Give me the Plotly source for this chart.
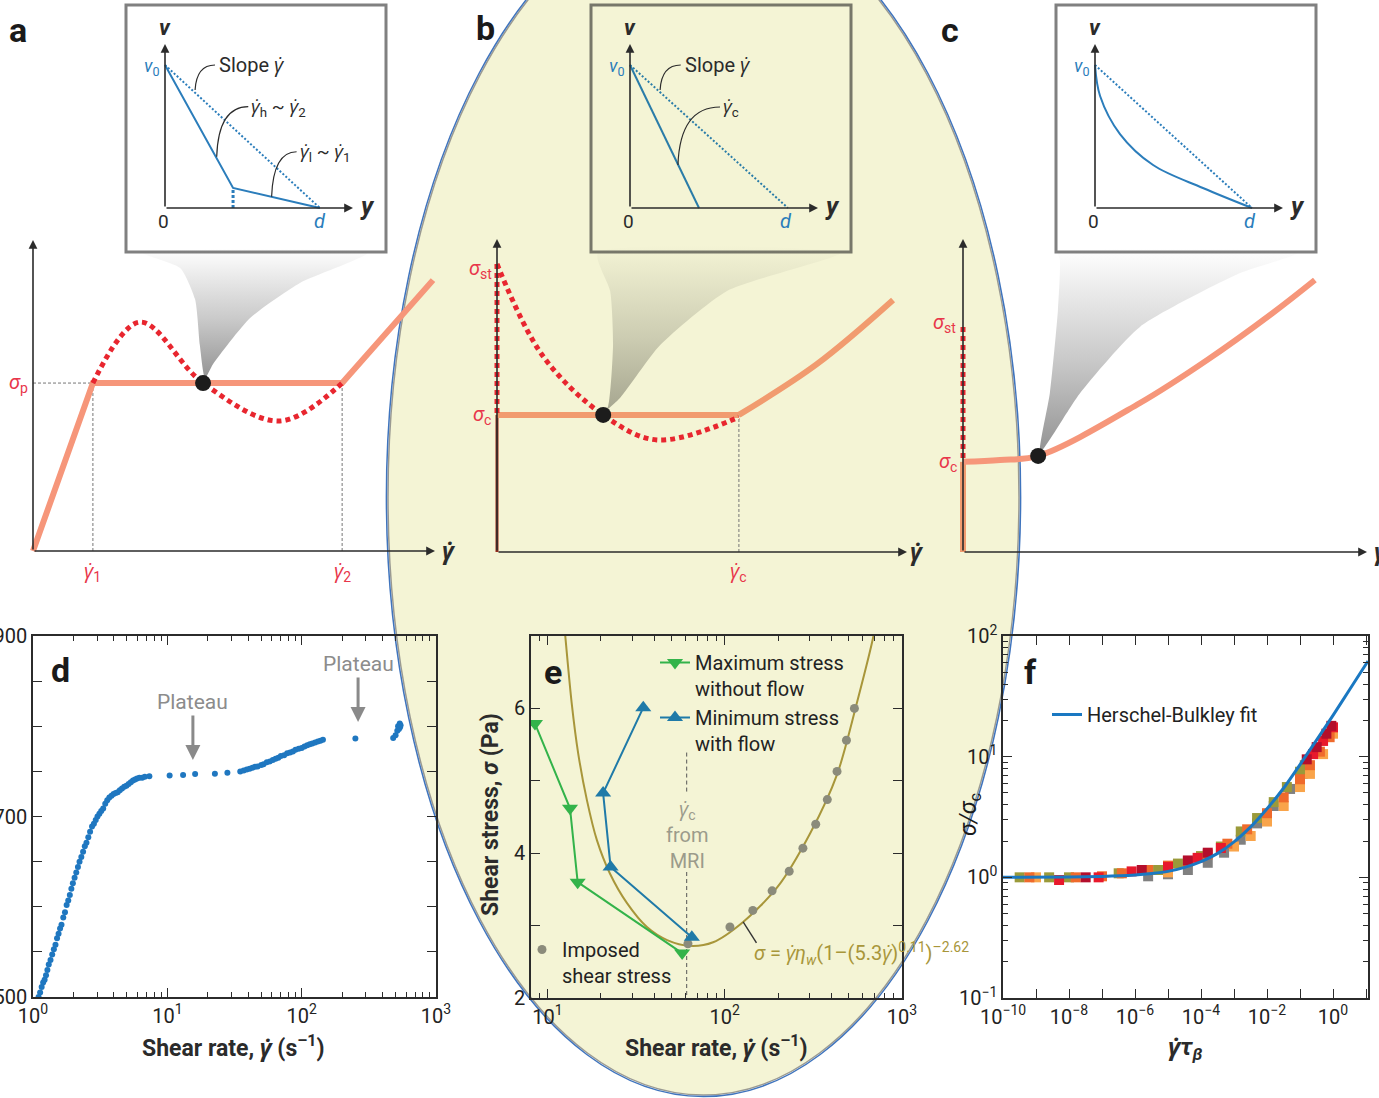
import math
import plotly.graph_objects as go

W, H = 1379, 1098
FONT = "Roboto, 'Open Sans', 'DejaVu Sans', sans-serif"

INK = "#2b2b2b"
SALMON = "#f6967a"
SALMON_B = "#f19b6f"
RED = "#e8262f"
LABEL_RED = "#e8364a"
BLUE = "#2b7dbb"
YELLOW = "#f4f4d5"
GD = "\u03b3\u0307"  # gamma with dot: shear rate

# ---------------- schematic a: shear banding (units: origin 0, arrow tip 1)
a_gamma_1, a_gamma_2, a_sigma_p = 0.149, 0.769, 0.54
a_flow_rate = [0.0, a_gamma_1, a_gamma_2, 0.995]
a_flow_stress = [0.0, a_sigma_p, a_sigma_p, 0.871]
a_unstable_rate = [a_gamma_1, 0.266, 0.423, 0.614, a_gamma_2]
a_unstable_stress = [a_sigma_p, 0.736, a_sigma_p, 0.418, a_sigma_p]
a_state_rate, a_state_stress = [0.423], [a_sigma_p]
a_fan_rate = [0.428, 0.415, 0.403, 0.366, 0.274, 0.831, 0.664, 0.540, 0.448, 0.428]
a_fan_stress = [0.556, 0.662, 0.810, 0.910, 0.958, 0.958, 0.862, 0.749, 0.601, 0.556]
# inset a: velocity profile across the gap
a_in_pos = [0.0, 0.362, 0.824]
a_in_vel = [0.872, 0.122, 0.0]
a_in_band_pos = [0.362, 0.362]
a_in_band_vel = [0.0, 0.122]

# ---------------- schematic b: shear banding with a static band
b_sigma_c, b_sigma_st, b_gamma_c = 0.438, 0.92, 0.59
b_flow_rate = [b_gamma_c, 0.78, 0.966]
b_flow_stress = [b_sigma_c, 0.60, 0.805]
b_unstable_rate = [0.0, 0.112, 0.259, 0.39, b_gamma_c]
b_unstable_stress = [b_sigma_st, 0.626, b_sigma_c, 0.358, 0.431]
b_state_rate, b_state_stress = [0.259], [b_sigma_c]
b_fan_rate = [0.259, 0.271, 0.283, 0.276, 0.246, 0.837, 0.561, 0.398, 0.300, 0.259]
b_fan_stress = [0.444, 0.466, 0.661, 0.834, 0.955, 0.955, 0.834, 0.661, 0.492, 0.444]
b_in_pos = [0.0, 0.367]
b_in_vel = [0.872, 0.0]

# ---------------- schematic c: simple yield-stress fluid
c_sigma_c, c_sigma_st = 0.288, 0.719
c_flow_rate = [0.0, 0.092, 0.186, 0.438, 0.604, 0.767, 0.871]
c_flow_stress = [c_sigma_c, 0.294, 0.307, 0.476, 0.613, 0.764, 0.869]
c_state_rate, c_state_stress = [0.186], [0.307]
c_fan_rate = [0.191, 0.215, 0.235, 0.240, 0.235, 0.827, 0.686, 0.438, 0.290, 0.191]
c_fan_stress = [0.319, 0.508, 0.773, 0.933, 0.955, 0.955, 0.891, 0.719, 0.508, 0.319]
c_in_pos = [0.0, 0.027, 0.133, 0.309, 0.574, 0.835]
c_in_vel = [0.872, 0.683, 0.451, 0.262, 0.122, 0.0]

v0_level = 0.872
a_gap, b_gap, c_gap = 0.824, 0.840, 0.835

# ---------------- panel d: measured flow curve
d_rate = [1.10, 1.13, 1.16, 1.19, 1.22, 1.25, 1.28, 1.31, 1.35, 1.39, 1.43, 1.47, 1.51, 1.55,
          1.59, 1.63, 1.68, 1.73, 1.78, 1.83, 1.88, 1.93, 1.98, 2.04, 2.10, 2.16, 2.22, 2.29,
          2.36, 2.43, 2.50, 2.58, 2.66, 2.75, 2.84, 2.93, 3.02, 3.12, 3.22, 3.33, 3.45, 3.57,
          3.70, 3.84, 3.98, 4.12, 4.27, 4.43, 4.60, 4.78, 4.96, 5.15, 5.35, 5.55, 5.75, 5.95,
          6.20, 6.50, 6.80, 7.35, 10.4, 13.1, 16.1, 22.6, 28.0, 34.9, 37, 39, 41, 43, 45, 47,
          50, 52, 55, 58, 61, 64, 67, 70, 74, 78, 82, 86, 90, 95, 100, 105, 110, 115, 120, 126,
          132, 138, 144, 251, 480, 500, 515, 522, 530, 537, 540, 545]
d_stress = [500, 505, 511, 516, 519, 524, 530, 536, 541, 547, 553, 558, 565, 570,
            576, 580, 588, 594, 602, 607, 613, 620, 626, 632, 638, 644, 650, 655,
            661, 667, 671, 677, 683, 689, 692, 696, 700, 703, 706, 709, 714, 718,
            721, 723, 725, 726, 727, 729, 731, 733, 734, 736, 738, 740, 741, 742,
            743, 743, 744, 744.5, 745.5, 746, 747, 747.5, 748.5, 750, 751, 752, 753, 754, 755, 755.5,
            757, 758, 760, 761, 762.5, 764, 765, 767, 768, 770, 771, 772, 774, 775, 776, 777.5, 779, 780, 781, 782,
            783, 784, 785, 786.5, 787, 790, 795, 800, 797, 803, 799, 801]
d_tickvals_y = [500, 550, 600, 650, 700, 750, 800, 850, 900]
d_ticktext_y = ["500", "", "", "", "700", "", "", "", "900"]
d_plateau_rate = [15.5, 263]
d_plateau_stress = [762.6, 804.7]

# ---------------- panel e: stress vs rate, MRI data
e_max_rate = [8.5, 13.4, 14.8, 57.5]
e_max_stress = [5.79, 4.62, 3.60, 2.62]
e_min_rate = [34.7, 20.6, 22.7, 65.2]
e_min_stress = [6.01, 4.83, 3.81, 2.84]
e_imposed_rate = [62, 107, 144, 185, 231, 276, 326, 379, 430, 486, 539]
e_imposed_stress = [2.75, 2.98, 3.21, 3.48, 3.75, 4.07, 4.40, 4.74, 5.13, 5.56, 6.00]
e_fit_rate = [12.3, 12.6, 13.7, 14.9, 16.7, 19.0, 22.5, 28.1, 36.4, 47.3, 63.8, 86, 127, 198, 304, 432, 561, 690, 720]
e_fit_stress = [7.3, 7.0, 6.07, 5.38, 4.73, 4.18, 3.72, 3.31, 2.98, 2.80, 2.72, 2.77, 3.05, 3.53, 4.28, 5.10, 6.11, 7.0, 7.3]
e_gamma_c_mri = 61
e_mri_stress = [5.39, 4.84, None, 3.74, 2.0]
e_pointer_rate = [127, 151]
e_pointer_stress = [3.05, 2.76]

# ---------------- panel f: scaled flow curves
f_gray_rate = [2.5e-6, 1e-5, 4e-5, 1.6e-4, 5e-4, 1.6e-3, 5e-3, 1.6e-2, 5e-2, 0.12]
f_gray_ratio = [1.02, 1.06, 1.15, 1.32, 1.6, 2.05, 2.8, 3.9, 5.4, 7.2]
f_olive_rate = [3.2e-10, 2.5e-9, 1.0e-8, 3.2e-7, 5.0e-6, 2.0e-5, 1.0e-4, 4.0e-4, 1.6e-3, 5.0e-3, 1.6e-2, 4.0e-2, 0.1, 0.14]
f_olive_ratio = [1.0, 1.0, 1.0, 1.08, 1.15, 1.3, 1.5, 1.8, 2.4, 3.1, 4.2, 5.6, 7.5, 8.5]
f_lorange_rate = [1e-9, 1e-5, 1e-3, 3.2e-3, 1e-2, 3.2e-2, 0.1, 0.2, 0.5, 1.0]
f_lorange_ratio = [1.0, 1.1, 1.8, 2.2, 2.9, 3.9, 5.6, 7.2, 10.5, 15.5]
f_orange_rate = [6.3e-10, 1.6e-8, 1e-7, 4.0e-7, 2.5e-6, 1e-5, 4e-5, 1.6e-4, 6.3e-4, 2.5e-3, 1e-2, 3.2e-2, 0.1, 0.2, 0.4, 0.79]
f_orange_ratio = [1.0, 1.0, 1.02, 1.08, 1.15, 1.25, 1.35, 1.55, 1.9, 2.5, 3.4, 4.6, 6.5, 8.5, 11.0, 14.5]
f_red_rate = [5.0e-9, 7.9e-8, 7.9e-7, 1e-5, 7.9e-5, 4e-4, 0.25, 0.5, 1.0]
f_red_ratio = [0.95, 1.0, 1.12, 1.22, 1.45, 1.75, 10.5, 13.5, 17.5]
f_dred_rate = [3.2e-8, 1.6e-6, 4e-5, 1.6e-4, 0.16, 0.32, 0.63, 0.89]
f_dred_ratio = [1.0, 1.15, 1.38, 1.6, 9.5, 12.0, 15.5, 18.0]
f_fit_rate = [1e-10, 1e-8, 1e-7, 1e-6, 3.2e-6, 1e-5, 3.2e-5, 1e-4, 3.2e-4, 1e-3, 3.2e-3,
              1e-2, 3.2e-2, 0.1, 0.32, 1.0, 3.2, 11.5]
f_fit_ratio = [1.0, 1.006, 1.016, 1.044, 1.074, 1.12, 1.21, 1.35, 1.58, 1.97, 2.62,
               3.7, 5.5, 8.6, 13.8, 22.0, 36.0, 62.0]

fig = go.Figure()


def names(n):
    s = "" if n == 1 else str(n)
    return "xaxis" + s, "yaxis" + s, "x" + s, "y" + s


def schematic_axes(n, box, origin, tip):
    l, t, r, b = box
    x0, y0 = origin
    xt, yt = tip
    xa, ya, xr, yr = names(n)
    fig.update_layout({
        xa: dict(domain=[l / W, r / W], range=[(l - x0) / (xt - x0), (r - x0) / (xt - x0)],
                 visible=False, anchor=yr, automargin=False),
        ya: dict(domain=[1 - b / H, 1 - t / H], range=[(y0 - b) / (y0 - yt), (y0 - t) / (y0 - yt)],
                 visible=False, anchor=xr, automargin=False),
    })
    return xr, yr


def line(ref, x, y, color, width, dash=None, shape="linear", smoothing=1.0):
    fig.add_trace(go.Scatter(x=x, y=y, mode="lines", xaxis=ref[0], yaxis=ref[1],
                             line=dict(color=color, width=width, dash=dash, shape=shape, smoothing=smoothing),
                             showlegend=False, hoverinfo="skip"))


def dot(ref, x, y, size=16):
    fig.add_trace(go.Scatter(x=x, y=y, mode="markers", xaxis=ref[0], yaxis=ref[1], cliponaxis=False,
                             marker=dict(color="#1c1c1c", size=size), showlegend=False, hoverinfo="skip"))


def fan(ref, x, y, base, alpha):
    fig.add_trace(go.Scatter(
        x=x, y=y, mode="lines", fill="toself", xaxis=ref[0], yaxis=ref[1],
        line=dict(width=0, shape="spline", smoothing=0.6),
        fillgradient=dict(type="vertical", colorscale=[[0, f"rgba({base},{alpha})"],
                                                       [0.45, f"rgba({base},{alpha * 0.5})"],
                                                       [1, f"rgba({base},0)"]]),
        showlegend=False, hoverinfo="skip"))


def arrow(ref, x, y):
    fig.add_annotation(xref=ref[0], yref=ref[1], axref=ref[0], ayref=ref[1], x=x, y=y, ax=0, ay=0,
                       text="", showarrow=True, arrowhead=2, arrowsize=1.1, arrowwidth=1.6,
                       arrowcolor=INK, standoff=0)


def note(ref, x, y, text, size=18, color=INK, xanchor="center", yanchor="middle", **kw):
    fig.add_annotation(xref=ref[0], yref=ref[1], x=x, y=y, text=text, showarrow=False,
                       font=dict(family=FONT, size=size, color=color), xanchor=xanchor, yanchor=yanchor, **kw)


def ptext(px, py, text, size=18, color=INK, xanchor="center", yanchor="middle", **kw):
    note(("paper", "paper"), px / W, 1 - py / H, text, size, color, xanchor, yanchor, **kw)


def leader(ref, p0, c, p1):
    fig.add_shape(type="path", xref=ref[0], yref=ref[1], layer="above",
                  path=f"M{p0[0]},{p0[1]} Q{c[0]},{c[1]} {p1[0]},{p1[1]}",
                  line=dict(color=INK, width=1.2))


# ---------------- background: highlighted ellipse and inset frames
cx, cy, rx, ry = 703.5, 497, 315.5, 598
fig.add_shape(type="circle", xref="paper", yref="paper", layer="below",
              x0=(cx - rx) / W, x1=(cx + rx) / W, y0=1 - (cy + ry) / H, y1=1 - (cy - ry) / H,
              fillcolor=YELLOW, line=dict(color="#9a9a92", width=1.5))
fig.add_shape(type="circle", xref="paper", yref="paper", layer="below",
              x0=(cx - rx - 1.6) / W, x1=(cx + rx + 1.6) / W, y0=1 - (cy + ry + 1.6) / H, y1=1 - (cy - ry - 1.6) / H,
              line=dict(color="#3f74bd", width=1.5))
for (l, t, r, b), fill, edge in [((126, 5, 386, 252), "white", "#808080"),
                                  ((591, 5, 851, 252), "rgba(0,0,0,0)", "#77776a"),
                                  ((1056, 5, 1316, 252), "white", "#808080")]:
    fig.add_shape(type="rect", xref="paper", yref="paper", layer="below",
                  x0=l / W, x1=r / W, y0=1 - b / H, y1=1 - t / H,
                  fillcolor=fill, line=dict(color=edge, width=3))

# ---------------- panel a
A = schematic_axes(1, (0, 228, 460, 592), (33, 551), (435, 240))
AI = schematic_axes(2, (128, 10, 384, 248), (165, 208), (353, 44))

fan(A, a_fan_rate, a_fan_stress, "120,120,120", 0.8)
line(A, [0, a_gamma_1], [a_sigma_p, a_sigma_p], "#777777", 1, "3px,2px")
line(A, [a_gamma_1, a_gamma_1], [0, a_sigma_p], "#777777", 1, "3px,2px")
line(A, [a_gamma_2, a_gamma_2], [0, a_sigma_p], "#777777", 1, "3px,2px")
line(A, a_flow_rate, a_flow_stress, SALMON, 6)
line(A, a_unstable_rate, a_unstable_stress, RED, 5, "5px,4px", "spline", 1.0)
dot(A, a_state_rate, a_state_stress)
arrow(A, 0, 1)
arrow(A, 1, 0)
note(A, 0, 1.05, "<b><i>σ</i></b>", 23)
note(A, 1.035, 0, f"<b><i>{GD}</i></b>", 23)
note(A, -0.037, a_sigma_p, "<i>σ</i><sub>p</sub>", 20, LABEL_RED)
note(A, a_gamma_1, -0.068, f"<i>{GD}</i><sub>1</sub>", 20, LABEL_RED)
note(A, a_gamma_2, -0.068, f"<i>{GD}</i><sub>2</sub>", 20, LABEL_RED)

line(AI, [0, a_gap], [v0_level, 0], BLUE, 2, "2px,2px")
line(AI, a_in_band_pos, a_in_band_vel, BLUE, 3, "3px,2px")
line(AI, a_in_pos, a_in_vel, BLUE, 2)
arrow(AI, 0, 1)
arrow(AI, 1, 0)
note(AI, 0, 1.10, "<b><i>v</i></b>", 22)
note(AI, 1.075, 0.01, "<b><i>y</i></b>", 25)
note(AI, -0.01, -0.08, "0", 19)
note(AI, a_gap, -0.08, "<i>d</i>", 20, BLUE)
note(AI, -0.07, 0.86, "<i>v</i><sub>0</sub>", 18, BLUE)
leader(AI, (0.16, 0.72), (0.168, 0.872), (0.266, 0.872))
note(AI, 0.275, 0.872, f"Slope <i>{GD}</i>", 20, xanchor="left")
leader(AI, (0.275, 0.313), (0.284, 0.618), (0.443, 0.618))
note(AI, 0.448, 0.612, f"<i>{GD}</i><sub>h</sub> ~ <i>{GD}</i><sub>2</sub>", 19, xanchor="left")
leader(AI, (0.567, 0.069), (0.576, 0.343), (0.700, 0.343))
note(AI, 0.705, 0.337, f"<i>{GD}</i><sub>l</sub> ~ <i>{GD}</i><sub>1</sub>", 19, xanchor="left")

# ---------------- panel b
B = schematic_axes(3, (470, 228, 925, 592), (497, 552), (907, 239))
BI = schematic_axes(4, (593, 10, 849, 248), (630, 208), (818, 44))

fan(B, b_fan_rate, b_fan_stress, "100,100,85", 0.55)
line(B, [b_gamma_c, b_gamma_c], [0, b_sigma_c], "#777777", 1, "3px,2px")
line(B, [0, 0], [0, b_sigma_c], "#9a2a1a", 3)
line(B, [0, b_gamma_c], [b_sigma_c, b_sigma_c], SALMON_B, 6)
line(B, b_flow_rate, b_flow_stress, SALMON_B, 6, shape="spline")
line(B, [0, 0], [b_sigma_st, b_sigma_c], RED, 5, "5px,4px")
line(B, b_unstable_rate, b_unstable_stress, RED, 5, "5px,4px", "spline", 1.0)
dot(B, b_state_rate, b_state_stress)
arrow(B, 0, 1)
arrow(B, 1, 0)
note(B, 0.005, 1.05, "<b><i>σ</i></b>", 23)
note(B, 1.025, 0, f"<b><i>{GD}</i></b>", 23)
note(B, -0.041, b_sigma_st - 0.015, "<i>σ</i><sub>st</sub>", 20, LABEL_RED)
note(B, -0.036, b_sigma_c, "<i>σ</i><sub>c</sub>", 20, LABEL_RED)
note(B, b_gamma_c, -0.064, f"<i>{GD}</i><sub>c</sub>", 20, LABEL_RED)

line(BI, [0, b_gap], [v0_level, 0], "#2a7ca8", 2, "2px,2px")
line(BI, b_in_pos, b_in_vel, "#2a7ca8", 2)
arrow(BI, 0, 1)
arrow(BI, 1, 0)
note(BI, 0, 1.10, "<b><i>v</i></b>", 22)
note(BI, 1.075, 0.01, "<b><i>y</i></b>", 25)
note(BI, -0.01, -0.08, "0", 19)
note(BI, b_gap - 0.01, -0.08, "<i>d</i>", 20, BLUE)
note(BI, -0.07, 0.86, "<i>v</i><sub>0</sub>", 18, BLUE)
leader(BI, (0.16, 0.72), (0.168, 0.872), (0.27, 0.872))
note(BI, 0.28, 0.872, f"Slope <i>{GD}</i>", 20, xanchor="left")
leader(BI, (0.255, 0.262), (0.266, 0.616), (0.479, 0.616))
note(BI, 0.485, 0.61, f"<i>{GD}</i><sub>c</sub>", 19, xanchor="left")

# ---------------- panel c
C = schematic_axes(5, (935, 228, 1379, 592), (963, 552), (1367, 239))
CI = schematic_axes(6, (1058, 10, 1314, 248), (1095, 208), (1283, 44))

fan(C, c_fan_rate, c_fan_stress, "120,120,120", 0.8)
line(C, [0, 0], [0, c_sigma_c], SALMON_B, 6)
line(C, c_flow_rate, c_flow_stress, SALMON, 6, shape="spline")
line(C, [0, 0], [c_sigma_st, c_sigma_c], RED, 5, "5px,4px")
dot(C, c_state_rate, c_state_stress)
arrow(C, 0, 1)
arrow(C, 1, 0)
note(C, 0.005, 1.05, "<b><i>σ</i></b>", 23)
note(C, 1.012, 0, f"<b><i>{GD}</i></b>", 23, xanchor="left")
note(C, -0.045, c_sigma_st + 0.012, "<i>σ</i><sub>st</sub>", 20, LABEL_RED)
note(C, -0.037, c_sigma_c, "<i>σ</i><sub>c</sub>", 20, LABEL_RED)

line(CI, [0, c_gap], [v0_level, 0], BLUE, 2, "2px,2px")
line(CI, c_in_pos, c_in_vel, BLUE, 2, shape="spline")
arrow(CI, 0, 1)
arrow(CI, 1, 0)
note(CI, 0, 1.10, "<b><i>v</i></b>", 22)
note(CI, 1.075, 0.01, "<b><i>y</i></b>", 25)
note(CI, -0.01, -0.08, "0", 19)
note(CI, c_gap - 0.01, -0.08, "<i>d</i>", 20, BLUE)
note(CI, -0.07, 0.86, "<i>v</i><sub>0</sub>", 18, BLUE)

# ---------------- data panels d, e, f
frame = dict(showline=True, linecolor=INK, linewidth=1.5, mirror="ticks", ticks="inside",
             tickcolor=INK, tickwidth=1.3, showgrid=False, zeroline=False, automargin=False,
             tickfont=dict(family=FONT, size=20, color="#222"))


def sup(k):
    return f"10<sup>{str(k).replace('-', '−')}</sup>"


d_minor = [m * 10 ** k for k in range(3) for m in range(2, 10)]
e_minor = [9] + [m * 10 ** k for k in (1, 2) for m in range(2, 10)]
f_minor = [m * 10.0 ** k for k in (-1, 0, 1) for m in range(2, 10)]
minor_style = dict(ticks="inside", ticklen=5, tickcolor=INK, tickwidth=1.2)

fig.update_layout(
    xaxis7=dict(frame, type="log", domain=[33 / W, 436 / W], range=[0, 3], anchor="y7", ticklen=9,
                tickvals=[1, 10, 100, 1000], ticktext=[sup(k) for k in range(4)],
                minor=dict(minor_style, tickvals=d_minor)),
    yaxis7=dict(frame, domain=[1 - 997 / H, 1 - 636 / H], range=[500, 900], anchor="x7", ticklen=9,
                tickvals=d_tickvals_y, ticktext=d_ticktext_y),
    xaxis8=dict(frame, type="log", domain=[531 / W, 902 / W], range=[0.907, 3], anchor="y8", ticklen=9,
                tickvals=[10, 100, 1000], ticktext=[sup(k) for k in (1, 2, 3)],
                minor=dict(minor_style, tickvals=e_minor)),
    yaxis8=dict(frame, domain=[1 - 998 / H, 1 - 636 / H], range=[2, 7], anchor="x8", ticklen=9,
                tickvals=[2, 3, 4, 5, 6, 7], ticktext=["2", "", "4", "", "6", ""]),
    xaxis9=dict(frame, type="log", domain=[1003 / W, 1368 / W], range=[-10, 1.06], anchor="y9", ticklen=9,
                tickvals=[10.0 ** k for k in range(-10, 2)],
                ticktext=[sup(k) if (k % 2 == 0 and k <= 0) else "" for k in range(-10, 2)]),
    yaxis9=dict(frame, type="log", domain=[1 - 998 / H, 1 - 636 / H], range=[-1, 2], anchor="x9", ticklen=9,
                tickvals=[0.1, 1, 10, 100], ticktext=[sup(k) for k in (-1, 0, 1, 2)],
                minor=dict(minor_style, tickvals=f_minor)),
)

D, E, F = ("x7", "y7"), ("x8", "y8"), ("x9", "y9")

# d
fig.add_trace(go.Scatter(x=d_rate, y=d_stress, mode="markers", xaxis="x7", yaxis="y7",
                         marker=dict(color="#1f77c0", size=6), showlegend=False, hoverinfo="skip"))
for rate, stress in zip(d_plateau_rate, d_plateau_stress):
    fig.add_annotation(xref="x7", yref="y7", x=math.log10(rate), y=stress, ax=0, ay=-58,
                       text="Plateau", showarrow=True, arrowhead=2, arrowsize=1, arrowwidth=3,
                       arrowcolor="#8a8a8a", font=dict(family=FONT, size=21, color="#8c8c8c"))

# e
line(E, e_fit_rate, e_fit_stress, "#a8963a", 2, shape="spline", smoothing=0.8)
line(E, [e_gamma_c_mri] * 5, e_mri_stress, "#555555", 1, "4px,3px")
line(E, e_pointer_rate, e_pointer_stress, "#333333", 1.4)
fig.add_trace(go.Scatter(x=e_imposed_rate, y=e_imposed_stress, mode="markers", xaxis="x8", yaxis="y8",
                         marker=dict(color="#8b8b7b", size=9), name="Imposed<br>shear stress",
                         legend="legend2", hoverinfo="skip"))
fig.add_trace(go.Scatter(x=e_max_rate, y=e_max_stress, mode="lines+markers", xaxis="x8", yaxis="y8",
                         line=dict(color="#33b34a", width=2),
                         marker=dict(symbol="triangle-down", size=14, color="#33b34a"),
                         name="Maximum stress<br>without flow", legend="legend", hoverinfo="skip"))
fig.add_trace(go.Scatter(x=e_min_rate, y=e_min_stress, mode="lines+markers", xaxis="x8", yaxis="y8",
                         line=dict(color="#1f7aa8", width=2),
                         marker=dict(symbol="triangle-up", size=14, color="#1f7aa8"),
                         name="Minimum stress<br>with flow", legend="legend", hoverinfo="skip"))
note(E, math.log10(e_gamma_c_mri), 4.25, f"<i>{GD}</i><sub>c</sub><br>from<br>MRI", 20, "#9b9b8b")
note(E, 2.155, 2.62, f"<i>σ</i> = <i>{GD}η</i><sub><i>w</i></sub>(1–(5.3<i>{GD}</i>)<sup>0.11</sup>)<sup>–2.62</sup>",
     20, "#a8963a", xanchor="left")

# f
for rate, ratio, col in [(f_gray_rate, f_gray_ratio, "#808080"),
                         (f_olive_rate, f_olive_ratio, "#9a9a3a"),
                         (f_lorange_rate, f_lorange_ratio, "#f9a44a"),
                         (f_orange_rate, f_orange_ratio, "#ef6a2c"),
                         (f_red_rate, f_red_ratio, "#e8192c"),
                         (f_dred_rate, f_dred_ratio, "#b40e2c")]:
    fig.add_trace(go.Scatter(x=rate, y=ratio, mode="markers", xaxis="x9", yaxis="y9",
                             marker=dict(symbol="square", size=10, color=col),
                             showlegend=False, hoverinfo="skip"))
fig.add_trace(go.Scatter(x=f_fit_rate, y=f_fit_ratio, mode="lines", xaxis="x9", yaxis="y9",
                         line=dict(color="#1a78c2", width=3, shape="spline", smoothing=0.6),
                         name="Herschel-Bulkley fit", legend="legend3", hoverinfo="skip"))

# ---------------- titles and panel letters
ptext(18, 30, "<b>a</b>", 34, "#1a1a1a")
ptext(485, 28, "<b>b</b>", 34, "#1a1a1a")
ptext(950, 30, "<b>c</b>", 34, "#1a1a1a")
ptext(60, 670, "<b>d</b>", 34, "#1a1a1a")
ptext(553, 672, "<b>e</b>", 34, "#1a1a1a")
ptext(1030, 672, "<b>f</b>", 34, "#1a1a1a")
ptext(233, 1046, f"<b>Shear rate, <i>{GD}</i> (s<sup>–1</sup>)</b>", 23)
ptext(716, 1046, f"<b>Shear rate, <i>{GD}</i> (s<sup>–1</sup>)</b>", 23)
ptext(490, 815, "<b>Shear stress, <i>σ</i> (Pa)</b>", 23, textangle=-90)
ptext(1185, 1048, f"<b><i>{GD}τ</i><sub><i>β</i></sub></b>", 24)
ptext(970, 815, "<i>σ/σ</i><sub>c</sub>", 23, "#1a1a1a", textangle=-90)

legend_style = dict(bgcolor="rgba(0,0,0,0)", font=dict(family=FONT, size=20, color="#222"),
                    xanchor="left", yanchor="top", itemwidth=30, valign="top", tracegroupgap=0)
fig.update_layout(
    template="none",
    width=W, height=H, margin=dict(l=0, r=0, t=0, b=0, pad=0),
    paper_bgcolor="white", plot_bgcolor="rgba(0,0,0,0)",
    hovermode=False, showlegend=True,
    legend=dict(legend_style, x=655 / W, y=1 - 643 / H),
    legend2=dict(legend_style, x=522 / W, y=1 - 930 / H),
    legend3=dict(legend_style, x=1047 / W, y=1 - 695 / H),
)

fig.write_html("out.html")
